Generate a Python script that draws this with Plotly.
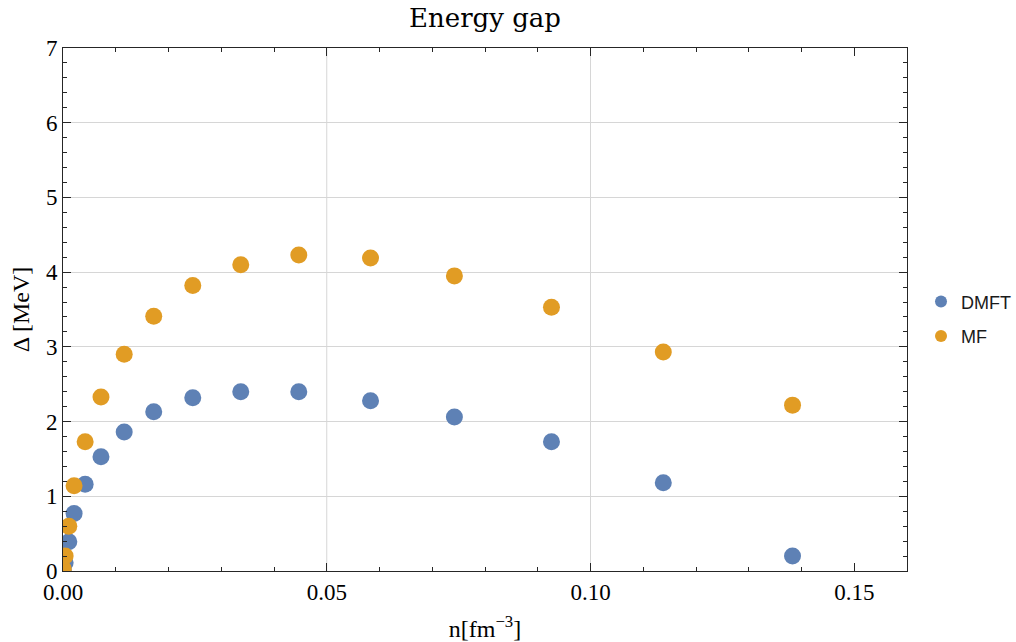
import plotly.graph_objects as go

# Data
density = [0.00005, 0.0004, 0.0011, 0.0021, 0.0042, 0.0072, 0.0116, 0.0172,
           0.0246, 0.0337, 0.0447, 0.0583, 0.0742, 0.0926, 0.1138, 0.1383]
gap_dmft = [0.01, 0.11, 0.39, 0.77, 1.16, 1.53, 1.86, 2.13,
            2.32, 2.40, 2.40, 2.28, 2.06, 1.73, 1.18, 0.20]
gap_mf = [0.03, 0.20, 0.60, 1.14, 1.73, 2.33, 2.90, 3.41,
          3.82, 4.10, 4.23, 4.19, 3.95, 3.53, 2.93, 2.22]
series_names = ["DMFT", "MF"]
x_ticks = [0.0, 0.05, 0.10, 0.15]
x_grid = [0.05, 0.10]
y_ticks = [0, 1, 2, 3, 4, 5, 6, 7]

BLUE = "#5E81B5"
ORANGE = "#E19C24"
SERIF = "Liberation Serif"
FRAME = "#262626"

fig = go.Figure()
fig.add_trace(go.Scatter(x=density, y=gap_dmft, mode="markers", name=series_names[0],
                         legendgroup="a",
                         marker=dict(color=BLUE, size=17, line=dict(width=0))))
fig.add_trace(go.Scatter(x=density, y=gap_mf, mode="markers", name=series_names[1],
                         legendgroup="b",
                         marker=dict(color=ORANGE, size=17, line=dict(width=0))))

for gx in x_grid:
    fig.add_shape(type="line", xref="x", yref="paper", x0=gx, x1=gx, y0=0, y1=1,
                  line=dict(color="#d6d6d6", width=1), layer="below")

fig.update_layout(
    width=1016, height=642,
    margin=dict(l=63, r=109, t=48, b=71, autoexpand=False),
    paper_bgcolor="white", plot_bgcolor="white",
    title=dict(text="Energy gap", x=0.5, xref="paper", xanchor="center",
               y=0.972, yanchor="middle",
               font=dict(family="DejaVu Serif", size=26, color="black")),
    legend=dict(x=0.9065, xref="container", y=0.482, yref="paper",
                xanchor="left", yanchor="middle",
                font=dict(family="Liberation Sans", size=18, color="#1a1a1a"),
                itemsizing="constant", tracegroupgap=8,
                bgcolor="rgba(0,0,0,0)"),
    xaxis=dict(range=[0, 0.16], tickvals=x_ticks, tickformat=".2f",
               automargin=False,
               ticks="inside", ticklen=8, tickwidth=1, tickcolor=FRAME,
               minor=dict(dtick=0.01, tick0=0, ticks="inside", ticklen=4,
                          tickcolor=FRAME, showgrid=False),
               showline=True, linecolor=FRAME, linewidth=1, mirror="ticks",
               showgrid=False, zeroline=False,
               tickfont=dict(family=SERIF, size=23, color="black"),
               title=dict(text="n[fm<sup>−3</sup>]", standoff=16,
                          font=dict(family=SERIF, size=24, color="black"))),
    yaxis=dict(range=[0, 7], tickvals=y_ticks,
               automargin=False,
               ticks="inside", ticklen=8, tickwidth=1, tickcolor=FRAME,
               minor=dict(dtick=0.2, tick0=0, ticks="inside", ticklen=4,
                          tickcolor=FRAME, showgrid=False),
               showline=True, linecolor=FRAME, linewidth=1, mirror="ticks",
               showgrid=True, gridcolor="#d6d6d6", gridwidth=1, zeroline=False,
               tickfont=dict(family=SERIF, size=23, color="black"),
               title=dict(text="Δ [MeV]", standoff=9,
                          font=dict(family=SERIF, size=24, color="black"))),
)

# remove the default 8px page margin so the figure fills the window exactly
fig.write_html("out.html", config={"displayModeBar": False},
               post_script="document.body.style.margin='0px';")
